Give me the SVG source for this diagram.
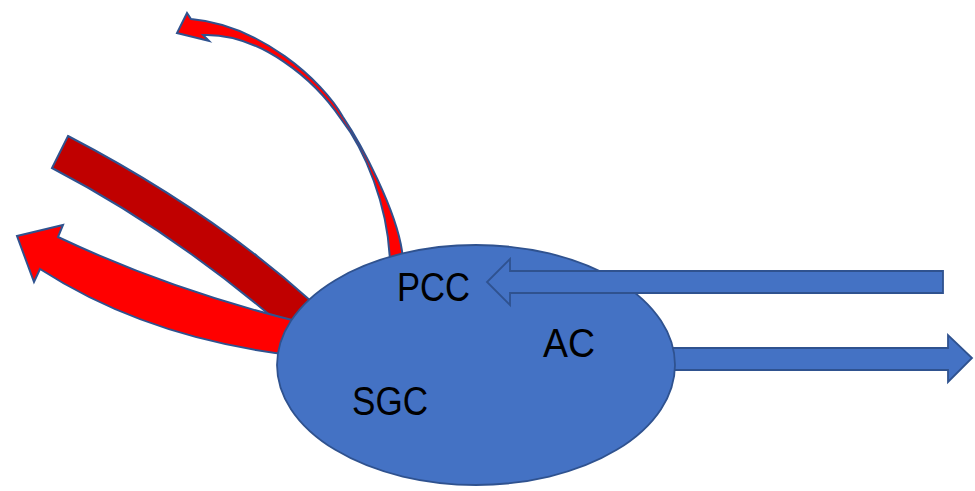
<svg xmlns="http://www.w3.org/2000/svg" width="975" height="491" viewBox="0 0 975 491">
<style>
.red{fill:#FF0000;stroke:#2F528F;stroke-width:2;stroke-linejoin:miter}
.dred{fill:#C00000;stroke:#2F528F;stroke-width:2}
.blue{fill:#4472C4;stroke:#2F528F;stroke-width:1.8}
.lbl{font-family:"Liberation Sans",Arial,sans-serif;font-size:40px;fill:#000}
</style>
<rect width="975" height="491" fill="#fff"/>
<g id="connectors">
  <path id="out-dark" class="dred" d="M68,136 Q210,210 312,302 L292,334 Q175,232 52,168 Z"/>
  <path id="out-red" class="red" d="M300,322 Q170,290 58,237 L63,225 L17,236 L34,282 L40,269 Q150,340 300,356 Z"/>
  <path id="out-top" class="red" d="M403,262 L402,251 C396,210 362,145 343,117 C322,80 260,25 191,19 L187,13 L177,33 L209,41 L203,35 C260,33 315,80 341,119 C365,150 388,205 390,262 Z"/>
  <path id="out-ac" class="blue" d="M660,348 L948,348 L948,335 L972,358 L948,382 L948,370 L660,370 Z"/>
</g>
<g id="node-cell">
  <ellipse class="blue" cx="476" cy="365" rx="199" ry="120"/>
</g>
<g id="connectors-front">
  <path id="in-pcc" class="blue" d="M943,271 L510,271 L510,259 L487,282 L510,305 L510,293 L943,293 Z"/>
</g>
<g id="labels">
  <text class="lbl" x="397" y="301" textLength="73" lengthAdjust="spacingAndGlyphs">PCC</text>
  <text class="lbl" x="543" y="357" textLength="52" lengthAdjust="spacingAndGlyphs">AC</text>
  <text class="lbl" x="352" y="415" textLength="76" lengthAdjust="spacingAndGlyphs">SGC</text>
</g>
</svg>
